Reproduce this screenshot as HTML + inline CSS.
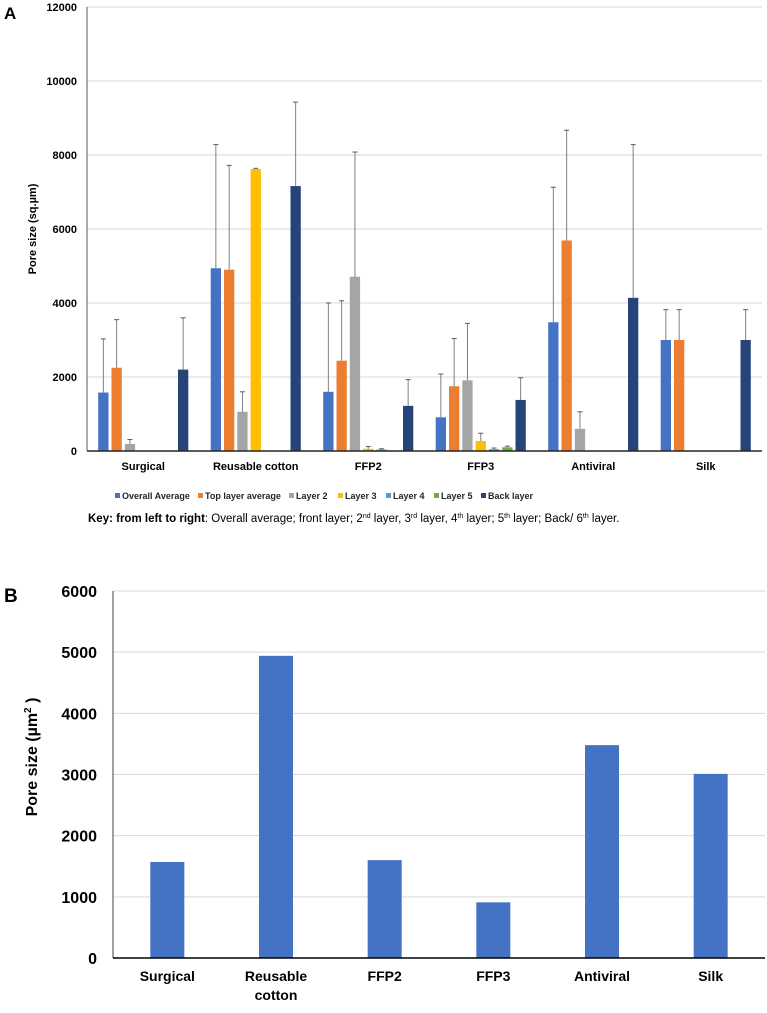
<!DOCTYPE html>
<html><head><meta charset="utf-8"><style>
html,body{margin:0;padding:0;background:#fff;}
svg text{font-family:"Liberation Sans",Arial,sans-serif;}
</style></head><body>
<svg id="chart" width="767" height="1008" xmlns="http://www.w3.org/2000/svg"></svg>
<script>
const categoriesA = ["Surgical","Reusable cotton","FFP2","FFP3","Antiviral","Silk"];
const seriesNames = ["Overall Average","Top layer average","Layer 2","Layer 3","Layer 4","Layer 5","Back layer"];
const seriesColors = ["#4472C4","#ED7D31","#A5A5A5","#FFC000","#5B9BD5","#70AD47","#264478"];
const overallAvg = [1580,4940,1600,910,3480,3000];
const topLayer = [2250,4900,2440,1750,5690,3000];
const layer2 = [190,1060,4710,1910,600,0];
const layer3 = [0,7620,60,270,0,0];
const layer4 = [0,0,40,50,0,0];
const layer5 = [0,0,0,100,0,0];
const backLayer = [2200,7160,1220,1380,4140,3000];
const errOverall = [1450,3340,2400,1170,3650,820];
const errTop = [1300,2820,1620,1290,2980,820];
const errL2 = [120,540,3370,1540,460,0];
const errL3 = [0,20,60,210,0,0];
const errL4 = [0,0,20,30,0,0];
const errL5 = [0,0,0,30,0,0];
const errBack = [1400,2270,710,600,4140,820];
const ticksA = [0,2000,4000,6000,8000,10000,12000];

const categoriesB = ["Surgical","Reusable cotton","FFP2","FFP3","Antiviral","Silk"];
const valuesB = [1570,4940,1600,910,3480,3010];
const ticksB = [0,1000,2000,3000,4000,5000,6000];

const NS="http://www.w3.org/2000/svg";
const svg=document.getElementById('chart');
function mk(tag,attrs,parent){const e=document.createElementNS(NS,tag);for(const k in attrs)e.setAttribute(k,attrs[k]);(parent||svg).appendChild(e);return e;}

// ---- Chart A ----
const A={x0:87,x1:762,y0:451,y1:7,max:12000};
const yA=v=>A.y0-(v/A.max)*(A.y0-A.y1);
const gwA=(A.x1-A.x0)/categoriesA.length;
const xA=i=>A.x0+gwA*i;
const allSeries=[overallAvg,topLayer,layer2,layer3,layer4,layer5,backLayer];
const allErr=[errOverall,errTop,errL2,errL3,errL4,errL5,errBack];
let t=mk('text',{x:4,y:19,'font-size':17,'font-weight':'bold'});t.textContent='A';


ticksA.forEach(v=>{
  if(v>0){const g=mk('line',{x1:A.x0,x2:A.x1,y1:yA(v),y2:yA(v),stroke:'#d9d9d9','stroke-width':1});
  
  }
  const tl=mk('text',{x:77,y:yA(v)+4,'font-size':11,'font-weight':'bold','text-anchor':'end'});tl.textContent=v;
  
  
});
let yt=mk('text',{transform:'translate(36,229) rotate(-90)','font-size':11,'font-weight':'bold','text-anchor':'middle'});yt.textContent='Pore size (sq.µm)';


const slot=13.3,bw=10.3;
categoriesA.forEach((c,i)=>{
  const start=xA(i)+(gwA-7*slot)/2;
  allSeries.forEach((s,j)=>{
    const v=s[i];
    const bx=start+j*slot+(slot-bw)/2;
    if(v>0){
      const r=mk('rect',{x:bx,y:yA(v),width:bw,height:A.y0-yA(v),fill:seriesColors[j]});
      
      
      const e=allErr[j][i];
      if(e>0){
        const cx=bx+bw/2;
        const el=mk('line',{x1:cx,x2:cx,y1:yA(v),y2:yA(v+e),stroke:'#7f7f7f','stroke-width':1});
        
        
        const cap=mk('line',{x1:cx-2.5,x2:cx+2.5,y1:yA(v+e),y2:yA(v+e),stroke:'#595959','stroke-width':1});
        
        
      }
    }
  });
  const cl=mk('text',{x:xA(i)+gwA/2,y:470,'font-size':11,'font-weight':'bold','text-anchor':'middle'});cl.textContent=c;
  
  
});
let ax=mk('line',{x1:A.x0,x2:A.x0,y1:A.y1,y2:A.y0,stroke:'#595959','stroke-width':1});


let bx0=mk('line',{x1:A.x0,x2:A.x1,y1:A.y0,y2:A.y0,stroke:'#262626','stroke-width':1.5});


const legX=[115,198,289,338,386,434,481];
seriesNames.forEach((n,j)=>{
  const sq=mk('rect',{x:legX[j],y:493,width:5,height:5,fill:seriesColors[j]});
  
  
  const lt=mk('text',{x:legX[j]+7,y:499,'font-size':9,'font-weight':'bold',fill:'#262626'});lt.textContent=n;
  
  
});
const key=mk('text',{x:88,y:522,'font-size':11.5});


key.innerHTML='<tspan font-weight="bold">Key: from left to right</tspan>: Overall average; front layer; 2<tspan font-size="7" dy="-4">nd</tspan><tspan dy="4"> layer, 3</tspan><tspan font-size="7" dy="-4">rd</tspan><tspan dy="4"> layer, 4</tspan><tspan font-size="7" dy="-4">th</tspan><tspan dy="4"> layer; 5</tspan><tspan font-size="7" dy="-4">th</tspan><tspan dy="4"> layer; Back/ 6</tspan><tspan font-size="7" dy="-4">th</tspan><tspan dy="4"> layer.</tspan>';

// ---- Chart B ----
const B={x0:113,x1:765,y0:958,y1:591,max:6000};
const yB=v=>B.y0-(v/B.max)*(B.y0-B.y1);
const gwB=(B.x1-B.x0)/categoriesB.length;
let tb=mk('text',{x:4,y:602,'font-size':19,'font-weight':'bold'});tb.textContent='B';


ticksB.forEach(v=>{
  if(v>0){const g=mk('line',{x1:B.x0,x2:B.x1,y1:yB(v),y2:yB(v),stroke:'#d9d9d9','stroke-width':1});
  
  }
  const tl=mk('text',{x:97,y:yB(v)+6,'font-size':16,'font-weight':'bold','text-anchor':'end'});tl.textContent=v;
  
  
});
let ytb=mk('text',{transform:'translate(37,757) rotate(-90)','font-size':16,'font-weight':'bold','text-anchor':'middle'});
ytb.innerHTML='Pore size (µm<tspan font-size="10" dy="-6">2</tspan><tspan dy="6"> )</tspan>';


categoriesB.forEach((c,i)=>{
  const cx=B.x0+gwB*(i+0.5);
  const r=mk('rect',{x:cx-17,y:yB(valuesB[i]),width:34,height:B.y0-yB(valuesB[i]),fill:'#4472C4'});
  
  
  const parts=c==='Reusable cotton'?['Reusable','cotton']:[c];
  parts.forEach((p,k)=>{
    const lt=mk('text',{x:cx,y:981+k*19,'font-size':14,'font-weight':'bold','text-anchor':'middle'});lt.textContent=p;
    
    
  });
});
let axb=mk('line',{x1:B.x0,x2:B.x0,y1:B.y1,y2:B.y0,stroke:'#404040','stroke-width':1});


let xb=mk('line',{x1:B.x0,x2:B.x1,y1:B.y0,y2:B.y0,stroke:'#000','stroke-width':1.5});


</script>
</body></html>
